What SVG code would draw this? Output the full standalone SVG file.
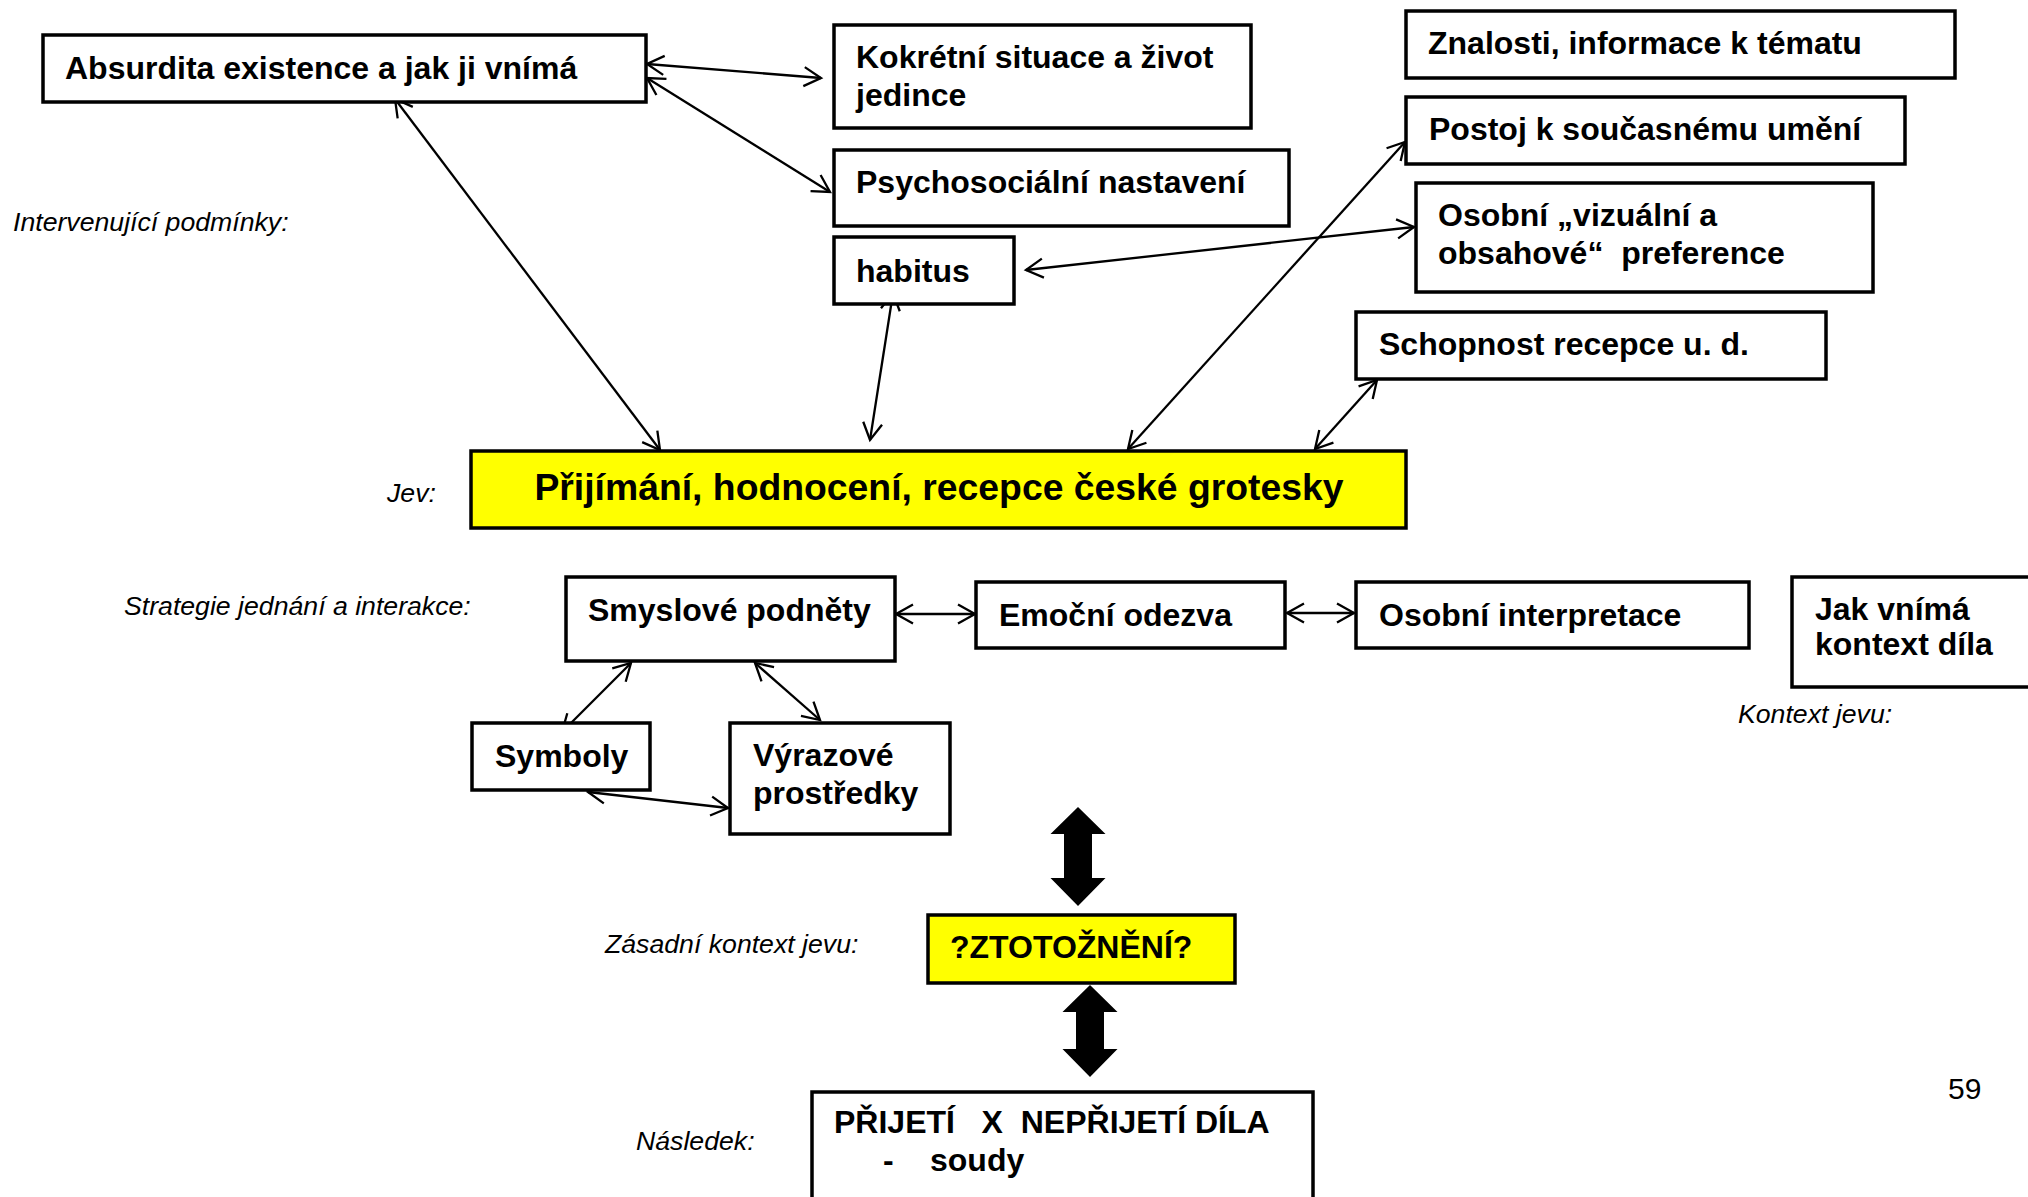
<svg xmlns="http://www.w3.org/2000/svg" width="2028" height="1197" viewBox="0 0 2028 1197">
<defs>
<style>
.box{fill:#fff;stroke:#000;stroke-width:3.5}
.yel{fill:#ffff00;stroke:#000;stroke-width:3.5}
.t{font-family:"Liberation Sans",Arial,sans-serif;font-weight:bold;font-size:32px;fill:#000}
.big{font-size:37.33px}
.lab{font-family:"Liberation Sans",Arial,sans-serif;font-style:italic;font-size:26.67px;fill:#000}
.con{stroke:#000;stroke-width:2.3;fill:none;marker-start:url(#ah);marker-end:url(#ah)}
.blk{fill:#000;stroke:none}
</style>
<marker id="ah" markerUnits="userSpaceOnUse" markerWidth="40" markerHeight="40" viewBox="-20 -20 40 40" refX="0" refY="0" orient="auto-start-reverse">
<path d="M-17,-9.5 L0,0 L-17,9.5" fill="none" stroke="#000" stroke-width="2.3"/>
</marker>
</defs>
<rect width="2028" height="1197" fill="#fff"/>

<g id="labels">
<text class="lab" x="13" y="231">Intervenující podmínky:</text>
<text class="lab" x="387" y="502">Jev:</text>
<text class="lab" x="124" y="615">Strategie jednání a interakce:</text>
<text class="lab" x="1738" y="723">Kontext jevu:</text>
<text class="lab" x="605" y="953">Zásadní kontext jevu:</text>
<text class="lab" x="636" y="1150">Následek:</text>
<text x="1948" y="1099" font-family="Liberation Sans, Arial, sans-serif" font-size="30">59</text>
</g>

<g id="connectors">
<line class="con" x1="647" y1="64" x2="821" y2="78"/>
<line class="con" x1="647" y1="78" x2="830" y2="192"/>
<line class="con" x1="395" y1="99" x2="660" y2="450"/>
<line class="con" x1="893" y1="293" x2="870" y2="440"/>
<line class="con" x1="1405" y1="142" x2="1128" y2="449"/>
<line class="con" x1="1414" y1="227" x2="1026" y2="270"/>
<line class="con" x1="1377" y1="380" x2="1315" y2="449"/>
<line class="con" x1="896" y1="614" x2="975" y2="614"/>
<line class="con" x1="1287" y1="613" x2="1354" y2="613"/>
<line class="con" x1="631" y1="663" x2="562" y2="732"/>
<line class="con" x1="755" y1="663" x2="820" y2="720"/>
<line class="con" x1="588" y1="792" x2="728" y2="808"/>
<polygon class="blk" points="1078,807 1105.5,834 1092,834 1092,878 1105.5,878 1078,906 1050.5,878 1064,878 1064,834 1050.5,834"/>
<polygon class="blk" points="1090,985 1117.5,1012 1104,1012 1104,1049 1117.5,1049 1090,1077 1062.5,1049 1076,1049 1076,1012 1062.5,1012"/>
</g>

<g id="absurdita"><rect class="box" x="43" y="35" width="603" height="67"/><text class="t" x="65" y="79">Absurdita existence a jak ji vnímá</text></g>
<g id="kokretni"><rect class="box" x="834" y="25" width="417" height="103"/><text class="t" x="856" y="67.5">Kokrétní situace a život</text><text class="t" x="856" y="105.5">jedince</text></g>
<g id="psychosocialni"><rect class="box" x="834" y="150" width="455" height="76"/><text class="t" x="856" y="193">Psychosociální nastavení</text></g>
<g id="habitus"><rect class="box" x="834" y="237" width="180" height="67"/><text class="t" x="856" y="281.5">habitus</text></g>
<g id="znalosti"><rect class="box" x="1406" y="11" width="549" height="67"/><text class="t" x="1428" y="54">Znalosti, informace k tématu</text></g>
<g id="postoj"><rect class="box" x="1406" y="97" width="499" height="67"/><text class="t" x="1429" y="139.5">Postoj k současnému umění</text></g>
<g id="preference"><rect class="box" x="1416" y="183" width="457" height="109"/><text class="t" x="1438" y="226">Osobní „vizuální a</text><text class="t" x="1438" y="263.5" xml:space="preserve" style="white-space:pre">obsahové“  preference</text></g>
<g id="schopnost"><rect class="box" x="1356" y="312" width="470" height="67"/><text class="t" x="1379" y="354.5">Schopnost recepce u. d.</text></g>
<g id="jev"><rect class="yel" x="471" y="451" width="935" height="77"/><text class="t big" x="939" y="500" text-anchor="middle">Přijímání, hodnocení, recepce české grotesky</text></g>
<g id="smyslove"><rect class="box" x="566" y="577" width="329" height="84"/><text class="t" x="588" y="620.5">Smyslové podněty</text></g>
<g id="emocni"><rect class="box" x="976" y="582" width="309" height="66"/><text class="t" x="999" y="625.5">Emoční odezva</text></g>
<g id="interpretace"><rect class="box" x="1356" y="582" width="393" height="66"/><text class="t" x="1379" y="625.5">Osobní interpretace</text></g>
<g id="kontext"><rect class="box" x="1792" y="577" width="260" height="110"/><text class="t" x="1815" y="620">Jak vnímá</text><text class="t" x="1815" y="655">kontext díla</text></g>
<g id="symboly"><rect class="box" x="472" y="723" width="178" height="67"/><text class="t" x="495" y="766.5">Symboly</text></g>
<g id="vyrazove"><rect class="box" x="730" y="723" width="220" height="111"/><text class="t" x="753" y="766">Výrazové</text><text class="t" x="753" y="804">prostředky</text></g>
<g id="ztotozneni"><rect class="yel" x="928" y="915" width="307" height="68"/><text class="t" x="950" y="957.5">?ZTOTOŽNĚNÍ?</text></g>
<g id="nasledek"><rect class="box" x="812" y="1092" width="501" height="130"/><text class="t" x="834" y="1133" xml:space="preserve" style="white-space:pre">PŘIJETÍ   X  NEPŘIJETÍ DÍLA</text><text class="t" y="1171"><tspan x="883">-</tspan><tspan x="930">soudy</tspan></text></g>
</svg>
